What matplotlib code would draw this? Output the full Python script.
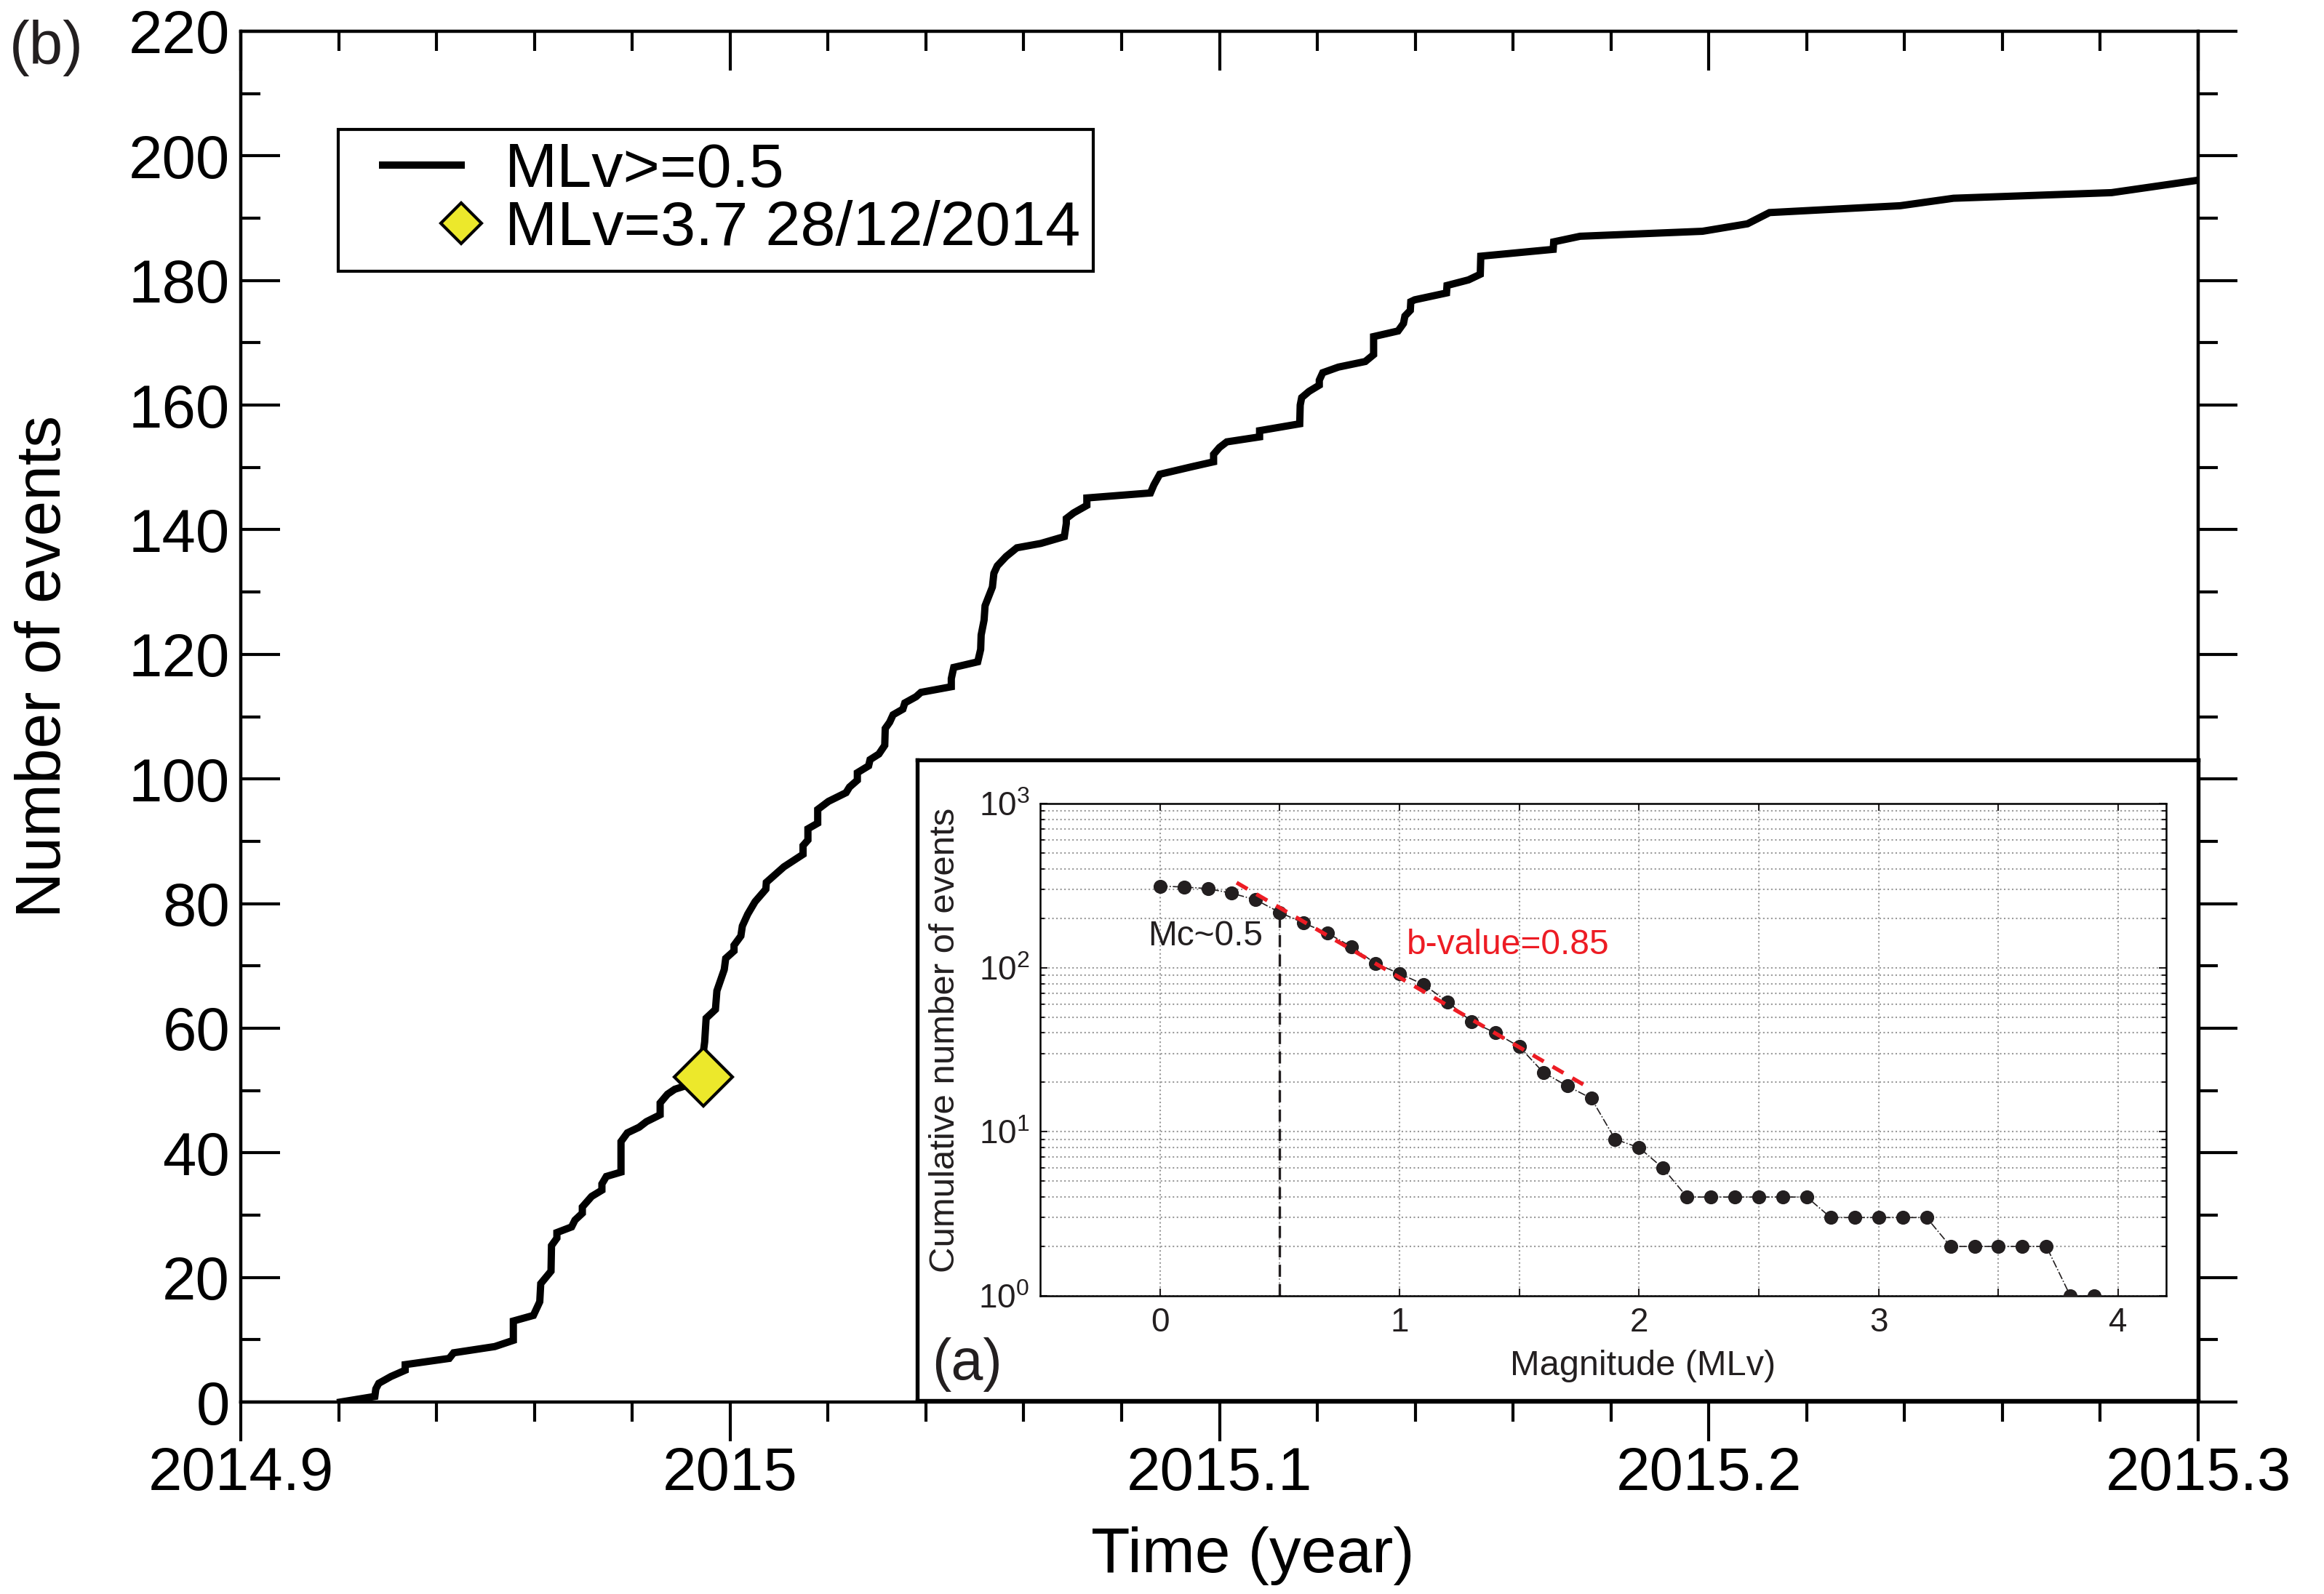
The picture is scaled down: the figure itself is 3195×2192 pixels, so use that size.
import numpy as np
import matplotlib.pyplot as plt
from matplotlib.ticker import MultipleLocator, FixedLocator
from matplotlib.legend_handler import HandlerLine2D

plt.rcParams['font.family'] = ['Liberation Sans', 'DejaVu Sans']
plt.rcParams['mathtext.fontset'] = 'custom'
plt.rcParams['mathtext.rm'] = 'Liberation Sans'

# cumulative number of events (MLv>=0.5) vs time
time_yr = [2014.9204, 2014.9274, 2014.9276, 2014.9282, 2014.9307, 2014.9336, 2014.9336,
           2014.9426, 2014.9435, 2014.9519, 2014.9557, 2014.9557, 2014.9598, 2014.9611,
           2014.9613, 2014.9634, 2014.9635, 2014.9646, 2014.9646, 2014.9676, 2014.9683,
           2014.9698, 2014.9698, 2014.9717, 2014.9738, 2014.9738, 2014.9747, 2014.9777,
           2014.9777, 2014.9790, 2014.9814, 2014.9829, 2014.9857, 2014.9857, 2014.9872,
           2014.9887, 2014.9911, 2014.9945, 2014.9946, 2014.9948, 2014.9951, 2014.9970,
           2014.9973, 2014.9988, 2014.9991, 2015.0008, 2015.0008, 2015.0022, 2015.0025,
           2015.0036, 2015.0051, 2015.0073, 2015.0074, 2015.0100, 2015.0110, 2015.0149,
           2015.0149, 2015.0159, 2015.0159, 2015.0179, 2015.0179, 2015.0201, 2015.0237,
           2015.0244, 2015.0260, 2015.0260, 2015.0283, 2015.0286, 2015.0304, 2015.0316,
           2015.0317, 2015.0326, 2015.0333, 2015.0353, 2015.0357, 2015.0380, 2015.0390,
           2015.0452, 2015.0452, 2015.0457, 2015.0506, 2015.0512, 2015.0513, 2015.0519,
           2015.0521, 2015.0536, 2015.0539, 2015.0546, 2015.0564, 2015.0586, 2015.0635,
           2015.0683, 2015.0687, 2015.0687, 2015.0702, 2015.0729, 2015.0729, 2015.0859,
           2015.0866, 2015.0878, 2015.0943, 2015.0988, 2015.0988, 2015.1000, 2015.1015,
           2015.1082, 2015.1082, 2015.1164, 2015.1165, 2015.1168, 2015.1183, 2015.1204,
           2015.1204, 2015.1211, 2015.1243, 2015.1298, 2015.1315, 2015.1315, 2015.1365,
           2015.1376, 2015.1379, 2015.1390, 2015.1391, 2015.1399, 2015.1464, 2015.1465,
           2015.1509, 2015.1533, 2015.1534, 2015.1682, 2015.1683, 2015.1737, 2015.1987,
           2015.2079, 2015.2124, 2015.2391, 2015.2500, 2015.2823, 2015.3000]
n_events = [0, 0.9, 2.1, 3, 4.1, 5.1, 6,
            7, 7.9, 8.9, 9.9, 13, 13.9, 16.1,
            19, 21, 25.1, 26.3, 27.2, 28.1, 29.2,
            30.3, 31.3, 33, 34, 35, 36.2, 36.9,
            41.8, 43.2, 44.1, 45, 46.1, 48, 49.4,
            50.2, 50.8, 52.2, 56.6, 57.8, 61.6, 63,
            66, 69.4, 71.2, 72.4, 73.3, 74.8, 76.4,
            78.3, 80.3, 82.3, 83.4, 85.2, 85.9, 87.9,
            89.3, 90.2, 92, 92.9, 95.1, 96.4, 97.8,
            98.7, 99.8, 101, 102.1, 103.1, 104, 105.4,
            108.1, 109.1, 110.3, 111.2, 112.2, 113.2, 113.9,
            114.8, 116.1, 117.9, 118.8, 120.8, 123.1, 125.5,
            127.8, 130.8, 133, 134.2, 135.7, 137.1, 137.8,
            138.9, 141, 141.8, 142.7, 143.9, 145.1, 145.9,
            147.2, 148.9, 150.1, 150.9, 152.1, 153.2, 154.1,
            154.9, 155.9, 157, 160, 161.2, 162.2, 163.2,
            164, 165.2, 166.1, 167, 168.1, 171, 171.9,
            173.1, 174.3, 175.2, 176.6, 176.9, 178, 179.2,
            180.1, 181, 183.9, 185, 186.2, 187.1, 187.9,
            189.1, 190.9, 192, 193.2, 194.1, 196.1]

# main shock
main_t = [2014.9945]
main_n = [52.2]

x_major = [2014.9, 2015.0, 2015.1, 2015.2, 2015.3]
x_labels = ['2014.9', '2015', '2015.1', '2015.2', '2015.3']
y_major = list(range(0, 221, 20))

# inset: frequency-magnitude distribution
mag = [0.0, 0.1, 0.2, 0.3, 0.4, 0.5, 0.6, 0.7, 0.8, 0.9, 1.0, 1.1, 1.2, 1.3, 1.4,
       1.5, 1.6, 1.7, 1.8, 1.9, 2.0, 2.1, 2.2, 2.3, 2.4, 2.5, 2.6, 2.7, 2.8, 2.9,
       3.0, 3.1, 3.2, 3.3, 3.4, 3.5, 3.6, 3.7, 3.8, 3.9]
cum_n = [314, 310, 303, 284, 259, 217, 187, 162, 134, 106, 92, 79, 62, 47, 40,
         33, 23, 19, 16, 9, 8, 6, 4, 4, 4, 4, 4, 4, 3, 3,
         3, 3, 3, 2, 2, 2, 2, 2, 1, 1]
mc = 0.5
mc_n = 209
a_value = 2.79
b_value = 0.85
fit_mag = np.array([0.32, 1.80])


# legend handle drawn over only part of the handle box (start/end as fractions)
class ShiftHandler(HandlerLine2D):
    def __init__(self, start, end, **kw):
        super().__init__(**kw)
        self.start = start
        self.end = end

    def get_xdata(self, legend, xdescent, ydescent, width, height, fontsize):
        x0 = -xdescent + self.start * width
        x1 = -xdescent + self.end * width
        return [x0, x1], [0.5 * (x0 + x1)]


W, H = 3195, 2192
fig = plt.figure(figsize=(W / 300, H / 300), dpi=300)

ax = fig.add_axes([331 / W, 1 - 1928 / H, (3022 - 331) / W, (1928 - 43) / H])
line, = ax.plot(time_yr, n_events, color='black', lw=2.4, solid_joinstyle='miter')
dia, = ax.plot(main_t, main_n, 'D', ms=13.6, mfc='#ece82b', mec='black', mew=1.0)
ax.set_xlim(2014.9, 2015.3)
ax.set_ylim(0, 220)
ax.set_xticks(x_major)
ax.set_xticklabels(x_labels)
ax.xaxis.set_minor_locator(MultipleLocator(0.02))
ax.set_yticks(y_major)
ax.yaxis.set_minor_locator(MultipleLocator(10))
ax.tick_params(axis='x', which='major', direction='out', length=13, width=1,
               top=False, labelsize=20, pad=1.5)
ax.tick_params(axis='x', which='minor', direction='out', length=6.5, width=1, top=False)
ax.tick_params(axis='y', which='major', direction='in', length=13, width=1,
               right=False, labelsize=20, pad=3.6)
ax.tick_params(axis='y', which='minor', direction='in', length=6.5, width=1, right=False)
for s in ax.spines.values():
    s.set_linewidth(1)

axr = ax.twinx()
axr.set_ylim(0, 220)
axr.set_yticks(y_major)
axr.yaxis.set_minor_locator(MultipleLocator(10))
axr.tick_params(axis='y', which='major', direction='out', length=13, width=1, labelright=False)
axr.tick_params(axis='y', which='minor', direction='out', length=6.5, width=1)
axt = ax.twiny()
axt.set_xlim(2014.9, 2015.3)
axt.set_xticks(x_major)
axt.xaxis.set_minor_locator(MultipleLocator(0.02))
axt.tick_params(axis='x', which='major', direction='in', length=13, width=1, labeltop=False)
axt.tick_params(axis='x', which='minor', direction='in', length=6.5, width=1)
for a in (axr, axt):
    for s in a.spines.values():
        s.set_linewidth(1)

leg = axt.legend([line, dia], ['MLv>=0.5', 'MLv=3.7 28/12/2014'],
                 handler_map={line: ShiftHandler(0.29, 1.0), dia: ShiftHandler(1.0, 1.0)},
                 loc='upper left', bbox_to_anchor=(465 / W, 1 - 178 / H),
                 bbox_transform=fig.transFigure, fontsize=20.75, markerscale=0.71,
                 frameon=True, fancybox=False, framealpha=1, edgecolor='black',
                 borderpad=0.2, labelspacing=0.0, handlelength=1.75,
                 handletextpad=0.7, borderaxespad=0)
leg.get_frame().set_linewidth(1)

fig.text(61 / W, 1 - 917 / H, 'Number of events', rotation=90, ha='center', va='center',
         fontsize=21)
fig.text(1722 / W, 1 - 2140 / H, 'Time (year)', ha='center', va='center', fontsize=21)
fig.text(64 / W, 1 - 66 / H, '(b)', ha='center', va='center', fontsize=20, color='#231f20')

# inset frame
axb = fig.add_axes([1261 / W, 1 - 1926 / H, (3022 - 1261) / W, (1926 - 1045) / H])
axb.set_xticks([])
axb.set_yticks([])
axb.set_facecolor('white')
for s in axb.spines.values():
    s.set_linewidth(1.3)

axi = fig.add_axes([1430 / W, 1 - 1782 / H, (2978 - 1430) / W, (1782 - 1105) / H])
axi.set_yscale('log')
axi.set_xlim(-0.5, 4.2)
axi.set_ylim(1, 1000)
axi.grid(True, which='both', ls=':', color='#9a9a9a', lw=0.5)
axi.plot(mag, cum_n, ls='-.', lw=0.4, color='#231f20', marker='o', ms=3.6,
         mfc='#231f20', mec='#231f20', zorder=3)
axi.plot(fit_mag, 10 ** (a_value - b_value * fit_mag), color='#ed1c24', lw=1.3,
         ls=(0, (3.2, 2.6)), zorder=4)
axi.vlines(mc, 1, mc_n, colors='#231f20', lw=0.8, linestyles=(0, (5, 3)), zorder=2)
axi.text(0.43, 155, 'Mc~0.5', ha='right', va='center', fontsize=11.5, color='#231f20')
axi.text(1.03, 137, 'b-value=0.85', ha='left', va='center', fontsize=11.5, color='#ed1c24')
axi.xaxis.set_major_locator(FixedLocator(np.arange(0, 4.01, 0.5)))
axi.set_xticklabels(['0', '', '1', '', '2', '', '3', '', '4'])
axi.tick_params(which='both', direction='in', top=True, right=True, labelsize=11,
                width=0.5, colors='#231f20')
axi.tick_params(which='major', length=2.5)
axi.tick_params(which='minor', length=1.5)
for s in axi.spines.values():
    s.set_linewidth(0.6)
axi.text(-0.084, 0.52, 'Cumulative number of events', transform=axi.transAxes,
         rotation=90, ha='center', va='center', fontsize=11.8, color='#231f20')
axi.text(0.5355, -0.142, 'Magnitude (MLv)', transform=axi.transAxes,
         ha='center', va='center', fontsize=11.7, color='#231f20')
fig.text(1329 / W, 1 - 1877 / H, '(a)', ha='center', va='center', fontsize=19,
         color='#231f20')

fig.savefig('out.png', dpi=300)
